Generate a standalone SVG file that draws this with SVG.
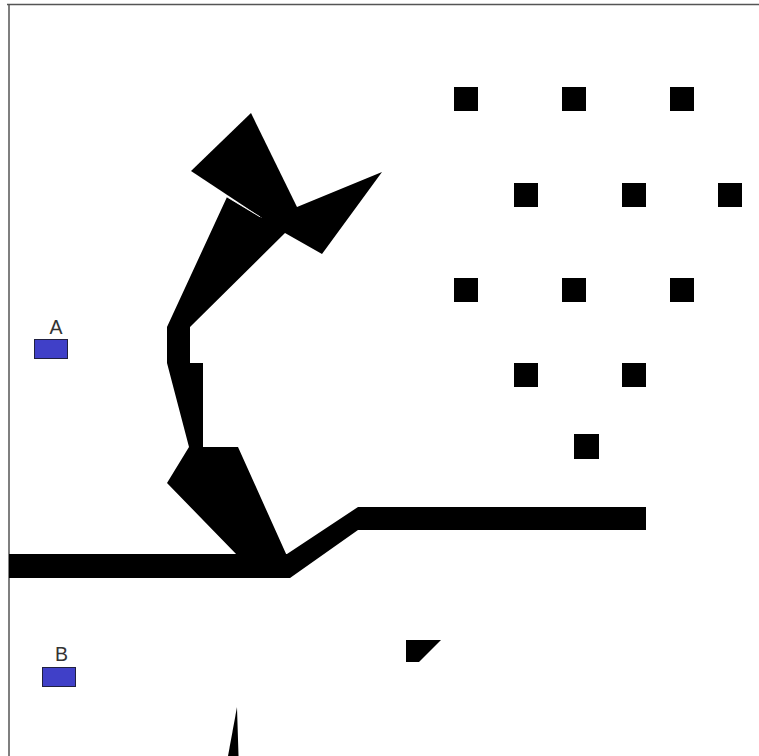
<svg xmlns="http://www.w3.org/2000/svg" width="759" height="756" viewBox="0 0 759 756">
<style>
.blk{fill:#000}
.sq{fill:#000}
.dev{fill:#4040c8;stroke:#202040;stroke-width:1}
.lbl{font-family:"Liberation Sans",Arial,sans-serif;font-size:19.5px;fill:#333;text-anchor:middle}
</style>
<rect x="0" y="0" width="759" height="756" fill="#fff"/>
<g id="border" fill="none" stroke="#555" stroke-width="1.5">
<line x1="7" y1="4.5" x2="759" y2="4.5"/>
<line x1="9" y1="4" x2="9" y2="756"/>
</g>
<g id="figure">
<polygon class="blk" points="227,197 262,218 297,207 382,172 322,254 285,233 190,327 190,363 203,363 203,447 238,447 287,556 238,556 167,483 189,447 167,363 167,327"/>
<polygon class="blk" points="251,113 297,207 300,215 285,233 262,218 191,171"/>
<line x1="227" y1="197" x2="260" y2="216.8" stroke="#fff" stroke-width="0.8"/>
</g>
<g id="connectors">
<polygon class="blk" points="9,554 287,554 358,507 646,507 646,530 358,530 290,578 9,578"/>
</g>
<g id="squares">
<rect class="sq" x="454" y="87" width="24" height="24"/>
<rect class="sq" x="562" y="87" width="24" height="24"/>
<rect class="sq" x="670" y="87" width="24" height="24"/>
<rect class="sq" x="514" y="183" width="24" height="24"/>
<rect class="sq" x="622" y="183" width="24" height="24"/>
<rect class="sq" x="718" y="183" width="24" height="24"/>
<rect class="sq" x="454" y="278" width="24" height="24"/>
<rect class="sq" x="562" y="278" width="24" height="24"/>
<rect class="sq" x="670" y="278" width="24" height="24"/>
<rect class="sq" x="514" y="363" width="24" height="24"/>
<rect class="sq" x="622" y="363" width="24" height="24"/>
<rect class="sq" x="574" y="434" width="25" height="25"/>
</g>
<g id="fragments">
<polygon class="blk" points="406,640 441,640 419,662 406,662"/>
<polygon class="blk" points="237,707 238.5,756 228,756"/>
</g>
<g id="nodeA">
<rect class="dev" x="34.5" y="339.5" width="33" height="19"/>
<text class="lbl" x="56" y="333.5">A</text>
</g>
<g id="nodeB">
<rect class="dev" x="42.5" y="667.5" width="33" height="19"/>
<text class="lbl" x="61.5" y="660.5">B</text>
</g>
</svg>
